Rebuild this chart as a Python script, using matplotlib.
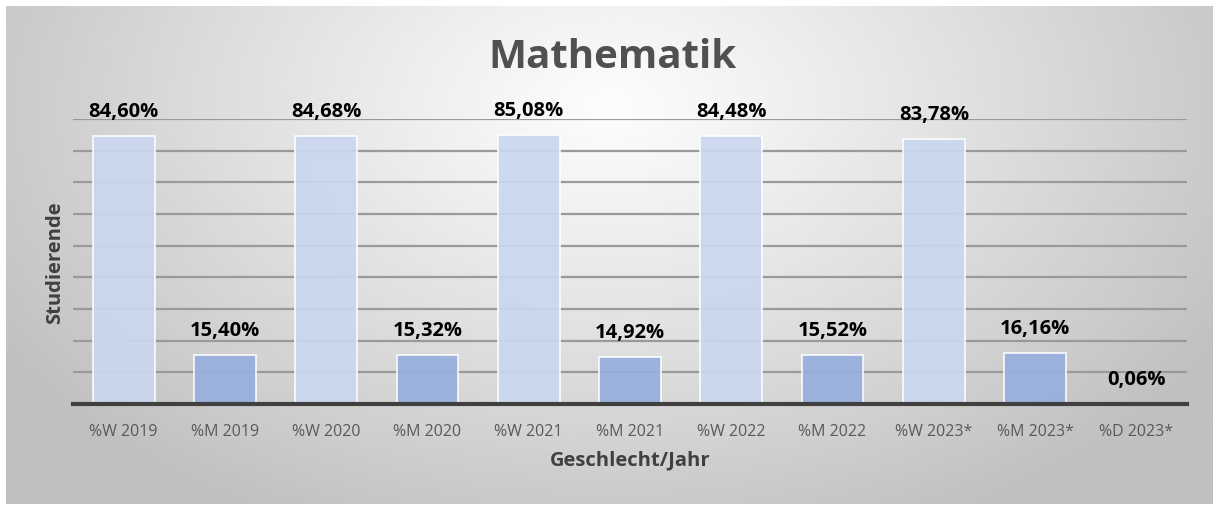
import numpy as np
import matplotlib
matplotlib.use("Agg")
import matplotlib.pyplot as plt

# data
categories = ["%W 2019", "%M 2019", "%W 2020", "%M 2020", "%W 2021", "%M 2021",
              "%W 2022", "%M 2022", "%W 2023*", "%M 2023*", "%D 2023*"]
values = [84.60, 15.40, 84.68, 15.32, 85.08, 14.92, 84.48, 15.52, 83.78, 16.16, 0.06]
labels = ["84,60%", "15,40%", "84,68%", "15,32%", "85,08%", "14,92%",
          "84,48%", "15,52%", "83,78%", "16,16%", "0,06%"]

plt.rcParams['font.family'] = ['Open Sans', 'DejaVu Sans']

W, H = 1213, 506
fig = plt.figure(figsize=(W / 100, H / 100), dpi=100)
fig.patch.set_facecolor("white")

# radial gradient background of the chart area
bg = fig.add_axes([6 / W, 1 / H, (W - 6) / W, 498 / H])
bg.set_axis_off()
xx, yy = np.meshgrid(np.linspace(0, 1, 400), np.linspace(0, 1, 200))
r = np.sqrt(((xx - 0.5) / 0.6) ** 2 + ((yy - 0.2) / 0.95) ** 2)
r = np.clip(r, 0, 1)
c0, c1 = 0.99, 0.75
shade = c0 + (c1 - c0) * r ** 1.1
bg.imshow(shade, cmap="gray", vmin=0, vmax=1, aspect="auto",
          extent=[0, 1, 1, 0], interpolation="bilinear")
bg.set_xlim(0, 1)
bg.set_ylim(1, 0)

ax = fig.add_axes([73 / W, (H - 405) / H, (1187 - 73) / W, 285 / H])
ax.patch.set_alpha(0)

x = np.arange(len(categories))
colors = ["#c9d7ee" if c.startswith("%W") else "#97afdd" for c in categories]
bars = ax.bar(x, values, width=0.61, color=colors, edgecolor="white",
              linewidth=1.2, zorder=3, alpha=0.92)

for xi, v, lab in zip(x, values, labels):
    ax.annotate(lab, (xi, v), xytext=(0, 18), textcoords="offset points",
                ha="center", va="center", fontsize=14.5, fontweight="bold",
                color="black", zorder=5)

ax.set_xlim(-0.5, len(categories) - 0.5)
ax.set_ylim(0, 90)
ax.set_yticks(np.arange(0, 91, 10))
ax.set_yticklabels([])
ax.tick_params(axis="y", length=0)
ax.tick_params(axis="x", length=0, labelsize=11.5, labelcolor="#595959", pad=14)
ax.set_xticks(x)
ax.set_xticklabels(categories)
ax.grid(axis="y", color="#9a9a9a", linewidth=1.6, zorder=0)

for s in ["top", "right", "left"]:
    ax.spines[s].set_visible(False)
ax.spines["bottom"].set_color("#404040")
ax.spines["bottom"].set_linewidth(3)
ax.spines["bottom"].set_zorder(4)

ax.set_xlabel("Geschlecht/Jahr", fontsize=14.5, fontweight="bold",
              color="#404040", labelpad=7)
ax.set_ylabel("Studierende", fontsize=14.5, fontweight="bold",
              color="#404040", labelpad=2)

fig.text(612 / W, (H - 58) / H, "Mathematik", ha="center", va="center",
         fontsize=29, fontweight="bold", color="#505050")

fig.savefig("out.png", dpi=100)
